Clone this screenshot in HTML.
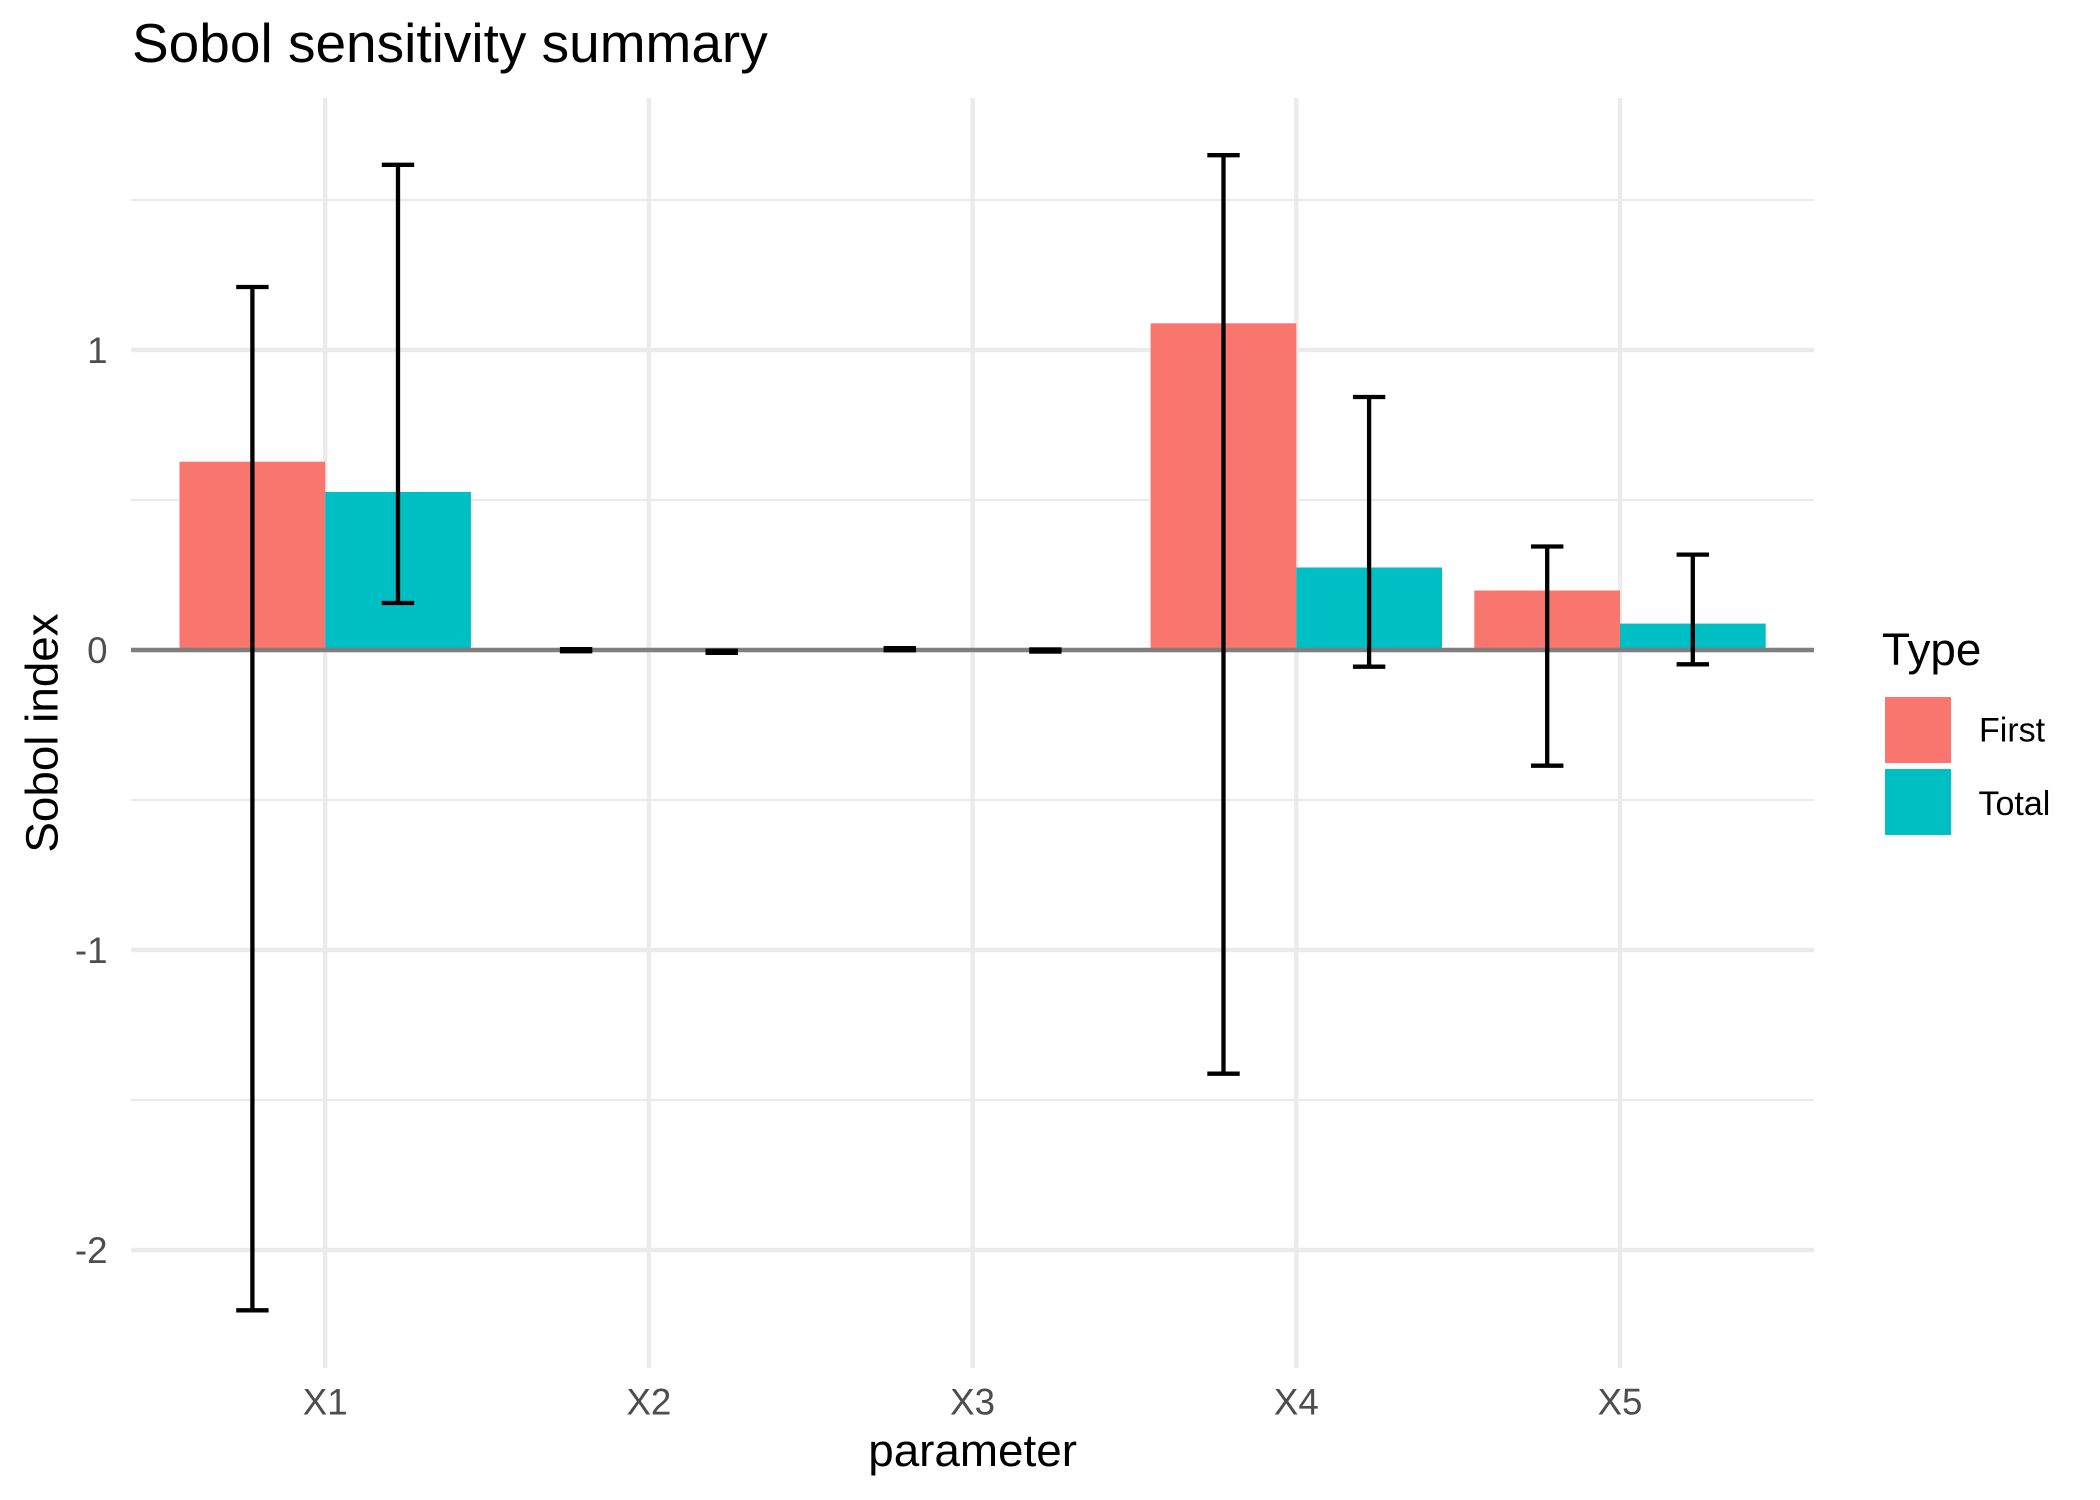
<!DOCTYPE html>
<html>
<head>
<meta charset="utf-8">
<style>
  html, body { margin: 0; padding: 0; background: #ffffff; }
  svg { display: block; }
  text { font-family: "Liberation Sans", Arial, sans-serif; }
</style>
</head>
<body>
<svg width="2100" height="1500" viewBox="0 0 2100 1500" xmlns="http://www.w3.org/2000/svg">
  <rect x="0" y="0" width="2100" height="1500" fill="#ffffff"/>

  <!-- minor horizontal gridlines -->
  <g stroke="#EBEBEB" stroke-width="2.2">
    <line x1="131" y1="200" x2="1814" y2="200"/>
    <line x1="131" y1="500" x2="1814" y2="500"/>
    <line x1="131" y1="800" x2="1814" y2="800"/>
    <line x1="131" y1="1100" x2="1814" y2="1100"/>
  </g>
  <!-- major horizontal gridlines -->
  <g stroke="#EBEBEB" stroke-width="4.4">
    <line x1="131" y1="350" x2="1814" y2="350"/>
    <line x1="131" y1="650" x2="1814" y2="650"/>
    <line x1="131" y1="950" x2="1814" y2="950"/>
    <line x1="131" y1="1250" x2="1814" y2="1250"/>
  </g>
  <!-- major vertical gridlines -->
  <g stroke="#EBEBEB" stroke-width="4.4">
    <line x1="325.2" y1="98" x2="325.2" y2="1368"/>
    <line x1="648.9" y1="98" x2="648.9" y2="1368"/>
    <line x1="972.6" y1="98" x2="972.6" y2="1368"/>
    <line x1="1296.3" y1="98" x2="1296.3" y2="1368"/>
    <line x1="1620.0" y1="98" x2="1620.0" y2="1368"/>
  </g>

  <!-- bars -->
  <g>
    <rect x="179.5" y="461.7" width="145.7" height="188.3" fill="#F8766D"/>
    <rect x="325.2" y="491.9" width="145.7" height="158.1" fill="#00BFC4"/>
    <rect x="1150.6" y="323.3" width="145.7" height="326.7" fill="#F8766D"/>
    <rect x="1296.3" y="567.5" width="145.7" height="82.5" fill="#00BFC4"/>
    <rect x="1474.3" y="590.5" width="145.7" height="59.5" fill="#F8766D"/>
    <rect x="1620.0" y="623.6" width="145.7" height="26.4" fill="#00BFC4"/>
  </g>

  <!-- zero line -->
  <line x1="131" y1="650" x2="1814" y2="650" stroke="#7F7F7F" stroke-width="4.4"/>

  <!-- error bars -->
  <g stroke="#000000" stroke-width="4.3" fill="none">
    <line x1="252.4" y1="287" x2="252.4" y2="1310.3"/>
    <line x1="236.2" y1="287" x2="268.6" y2="287"/>
    <line x1="236.2" y1="1310.3" x2="268.6" y2="1310.3"/>
    <line x1="398.0" y1="164.8" x2="398.0" y2="603"/>
    <line x1="381.8" y1="164.8" x2="414.2" y2="164.8"/>
    <line x1="381.8" y1="603" x2="414.2" y2="603"/>
    <line x1="1223.5" y1="155.2" x2="1223.5" y2="1073.7"/>
    <line x1="1207.3" y1="155.2" x2="1239.7" y2="155.2"/>
    <line x1="1207.3" y1="1073.7" x2="1239.7" y2="1073.7"/>
    <line x1="1369.1" y1="397" x2="1369.1" y2="666.7"/>
    <line x1="1352.9" y1="397" x2="1385.3" y2="397"/>
    <line x1="1352.9" y1="666.7" x2="1385.3" y2="666.7"/>
    <line x1="1547.2" y1="546.5" x2="1547.2" y2="765.7"/>
    <line x1="1531.0" y1="546.5" x2="1563.4" y2="546.5"/>
    <line x1="1531.0" y1="765.7" x2="1563.4" y2="765.7"/>
    <line x1="1692.8" y1="554.6" x2="1692.8" y2="664.3"/>
    <line x1="1676.6" y1="554.6" x2="1709.0" y2="554.6"/>
    <line x1="1676.6" y1="664.3" x2="1709.0" y2="664.3"/>
  </g>
  <!-- tiny error bars (X2, X3) -->
  <g fill="#000000">
    <rect x="559.9" y="647.0" width="32.4" height="6.4"/>
    <rect x="705.5" y="648.6" width="32.4" height="6.4"/>
    <rect x="883.6" y="646.0" width="32.4" height="6.4"/>
    <rect x="1029.2" y="647.3" width="32.4" height="6.4"/>
  </g>

  <!-- y tick labels -->
  <g fill="#4D4D4D" font-size="36.7" text-anchor="end">
    <text x="107.5" y="363">1</text>
    <text x="107.5" y="663">0</text>
    <text x="107.5" y="963">-1</text>
    <text x="107.5" y="1263">-2</text>
  </g>
  <!-- x tick labels -->
  <g fill="#4D4D4D" font-size="36.7" text-anchor="middle">
    <text x="325.2" y="1414.5">X1</text>
    <text x="648.9" y="1414.5">X2</text>
    <text x="972.6" y="1414.5">X3</text>
    <text x="1296.3" y="1414.5">X4</text>
    <text x="1620.0" y="1414.5">X5</text>
  </g>

  <!-- axis titles -->
  <text x="972.6" y="1466" font-size="45.8" fill="#000000" text-anchor="middle">parameter</text>
  <text transform="translate(57.5,733) rotate(-90)" x="0" y="0" font-size="45.8" fill="#000000" text-anchor="middle">Sobol index</text>

  <!-- title -->
  <text x="132" y="62" font-size="55" fill="#000000">Sobol sensitivity summary</text>

  <!-- legend -->
  <text x="1882" y="665" font-size="45.8" fill="#000000">Type</text>
  <rect x="1885" y="697" width="66" height="66" fill="#F8766D"/>
  <rect x="1885" y="769" width="66" height="66" fill="#00BFC4"/>
  <text x="1979" y="741.5" font-size="34" fill="#000000">First</text>
  <text x="1978.5" y="815" font-size="34" fill="#000000">Total</text>
</svg>
</body>
</html>
